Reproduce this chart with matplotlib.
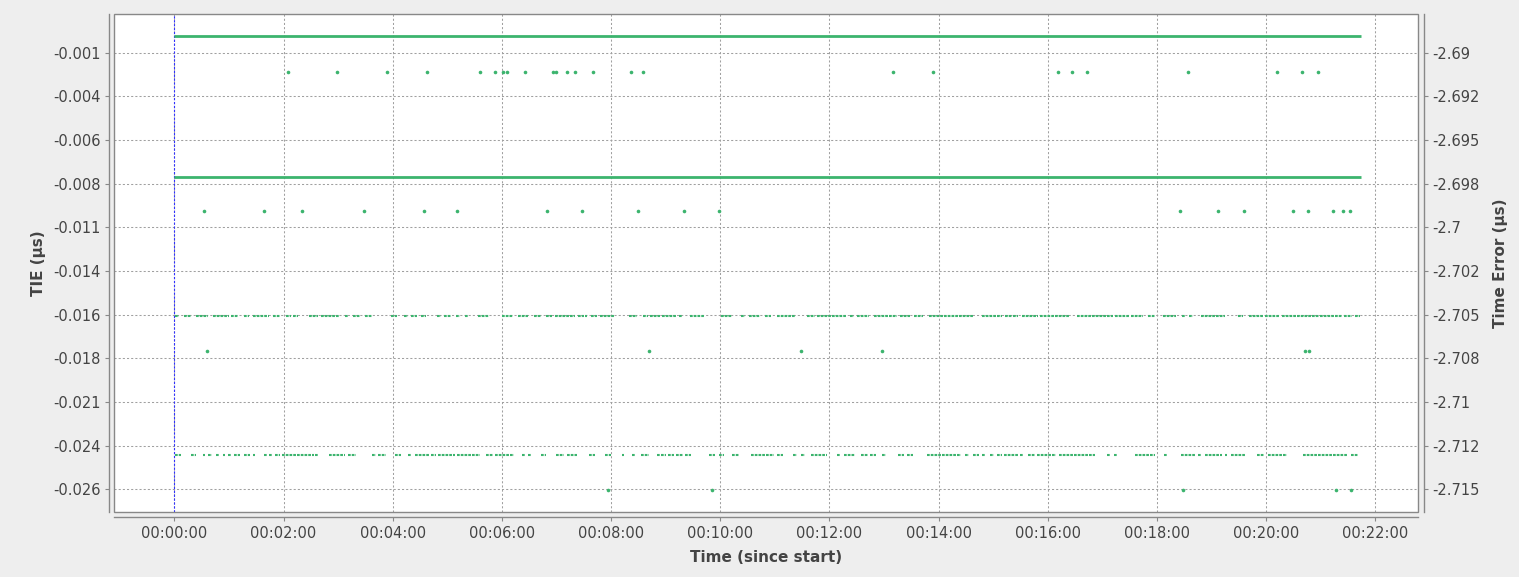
import matplotlib
matplotlib.use("Agg")
import matplotlib.pyplot as plt
from matplotlib.patches import Rectangle

# ---------------- data (time in minutes since start, TIE in µs) ----------------
x_ticks = [0, 2, 4, 6, 8, 10, 12, 14, 16, 18, 20, 22]
x_tick_labels = ["00:00:00", "00:02:00", "00:04:00", "00:06:00", "00:08:00", "00:10:00",
                 "00:12:00", "00:14:00", "00:16:00", "00:18:00", "00:20:00", "00:22:00"]

left_ticks = [-0.001, -0.0035, -0.006, -0.0085, -0.011, -0.0135, -0.016, -0.0185,
              -0.021, -0.0235, -0.026]
left_tick_labels = ["-0.001", "-0.004", "-0.006", "-0.008", "-0.011", "-0.014", "-0.016",
                    "-0.018", "-0.021", "-0.024", "-0.026"]
right_ticks = [-2.69, -2.6925, -2.695, -2.6975, -2.7, -2.7025, -2.705, -2.7075,
               -2.71, -2.7125, -2.715]
right_tick_labels = ["-2.69", "-2.692", "-2.695", "-2.698", "-2.7", "-2.702", "-2.705",
                     "-2.708", "-2.71", "-2.712", "-2.715"]
time_error_offset = -2.689   # Time Error = TIE + offset

# levels (µs)
level_top = -0.00004
level_top_low = -0.00209
level_mid = -0.0081
level_mid_low = -0.01006
level_c = -0.01606
level_c_low = -0.01808
level_d = -0.02403
level_d_low = -0.02604

# continuous runs
top_runs = [(0.0, 21.74)]
mid_runs = [(0.0, 21.74)]

# sparse samples
top_low_times = [2.09, 2.98, 3.90, 4.63, 5.59, 5.88, 6.02, 6.09, 6.43, 6.94, 6.99, 7.19,
                 7.34, 7.66, 8.37, 8.58, 13.16, 13.89, 16.19, 16.45, 16.72, 18.57, 20.19,
                 20.66, 20.95]
mid_low_times = [0.55, 1.65, 2.34, 3.47, 4.58, 5.18, 6.82, 7.47, 8.49, 9.34, 9.98, 18.42,
                 19.12, 19.60, 20.49, 20.76, 21.22, 21.40, 21.54]
c_low_times = [0.59, 8.69, 11.47, 12.97, 20.71, 20.79]
d_low_times = [7.94, 9.84, 18.47, 21.28, 21.55]

# dense rows (runs of samples)
c_runs = [(0.01, 0.09), (0.18, 0.30), (0.40, 0.62), (0.71, 1.00), (1.04, 1.17), (1.28, 1.36),
          (1.44, 1.73), (1.80, 1.94), (2.05, 2.13), (2.18, 2.27), (2.46, 2.63), (2.69, 3.01),
          (3.13, 3.19), (3.28, 3.41), (3.49, 3.62), (3.96, 4.07), (4.21, 4.28), (4.34, 4.45),
          (4.51, 4.61), (4.82, 4.88), (4.94, 5.07), (5.16, 5.23), (5.32, 5.37), (5.56, 5.76),
          (6.01, 6.20), (6.29, 6.48), (6.58, 6.71), (6.80, 6.92), (6.98, 7.34), (7.39, 7.50),
          (7.53, 7.56), (7.63, 7.74), (7.79, 8.08), (8.32, 8.47), (8.58, 8.67), (8.72, 8.90),
          (8.94, 9.18), (9.24, 9.30), (9.44, 9.71), (10.01, 10.21), (10.37, 10.46),
          (10.52, 10.73), (10.82, 10.89), (10.90, 10.93), (11.03, 11.37), (11.59, 11.74),
          (11.78, 12.32), (12.38, 12.44), (12.50, 12.72), (12.81, 13.24), (13.30, 13.48),
          (13.55, 13.72), (13.83, 14.64), (14.79, 15.16), (15.22, 15.34), (15.37, 15.46),
          (15.53, 15.82), (15.86, 16.41), (16.54, 17.20), (17.22, 17.48), (17.53, 17.75),
          (17.83, 17.97), (18.10, 18.35), (18.46, 18.52), (18.58, 18.65), (18.80, 19.24),
          (19.49, 19.57), (19.69, 19.95), (19.97, 20.23), (20.28, 20.96), (20.99, 21.39),
          (21.42, 21.57), (21.62, 21.72)]
d_runs = [(0.02, 0.13), (0.30, 0.40), (0.52, 0.56), (0.62, 0.69), (0.76, 0.82), (0.89, 0.93),
          (0.98, 1.03), (1.09, 1.20), (1.28, 1.39), (1.44, 1.48), (1.65, 1.69), (1.74, 1.79),
          (1.84, 1.94), (1.97, 2.55), (2.57, 2.63), (2.83, 3.13), (3.18, 3.33), (3.62, 3.69),
          (3.73, 3.88), (4.04, 4.15), (4.28, 4.33), (4.40, 4.66), (4.70, 4.79), (4.83, 5.15),
          (5.18, 5.60), (5.71, 5.83), (5.88, 6.22), (6.37, 6.42), (6.48, 6.53), (6.72, 6.80),
          (6.99, 7.13), (7.20, 7.38), (7.60, 7.71), (7.88, 7.99), (8.20, 8.24), (8.38, 8.43),
          (8.54, 8.69), (8.84, 8.89), (8.91, 9.00), (9.04, 9.15), (9.19, 9.32), (9.35, 9.46),
          (9.79, 9.91), (9.98, 10.07), (10.22, 10.35), (10.56, 10.98), (11.03, 11.15),
          (11.34, 11.40), (11.47, 11.56), (11.67, 11.95), (12.14, 12.20), (12.27, 12.47),
          (12.58, 12.70), (12.75, 12.86), (12.97, 13.03), (13.25, 13.36), (13.42, 13.53),
          (13.79, 14.41), (14.48, 14.55), (14.62, 14.74), (14.79, 14.85), (14.94, 15.01),
          (15.07, 15.16), (15.19, 15.46), (15.49, 15.54), (15.64, 15.77), (15.80, 16.14),
          (16.20, 16.87), (17.08, 17.14), (17.21, 17.27), (17.59, 17.97), (18.12, 18.18),
          (18.43, 18.70), (18.75, 18.81), (18.87, 19.19), (19.25, 19.28), (19.36, 19.62),
          (19.83, 19.95), (20.04, 20.38), (20.68, 21.48), (21.55, 21.68)]

# ---------------- figure ----------------
W, H = 1519, 577
BG = "#eeeeee"
GREEN = "#3cb46e"
TXT = "#444444"
AXC = "#888888"
FS = 10.5

plt.rcParams["font.family"] = ["DejaVu Sans"]
fig = plt.figure(figsize=(W / 100, H / 100), dpi=100, facecolor=BG)
L, R, T, B = 114.3, 1418.3, 14.3, 511.7
ax = fig.add_axes([L / W, 1 - B / H, (R - L) / W, (B - T) / H])
ax.set_facecolor("white")
ymin, ymax = -0.02728, 0.0012
ax.set_xlim(-1.099, 22.784)
ax.set_ylim(ymin, ymax)

# grid
ax.set_xticks(x_ticks)
ax.set_xticklabels(x_tick_labels)
ax.set_yticks(left_ticks)
ax.set_yticklabels(left_tick_labels)
ax.grid(True, color="#a0a0a0", linestyle=(0, (2, 2)), linewidth=0.75, zorder=0)
ax.set_axisbelow(True)

# vertical start marker
ax.axvline(0, color="#3030ff", linestyle=(0, (2, 1.5)), linewidth=0.8, zorder=1)

# data
def draw_runs(runs, level, lw, dashes=None):
    for s, e in runs:
        kw = {}
        if dashes is not None:
            kw["dashes"] = dashes
        ax.plot([s, e], [level, level], color=GREEN, linewidth=lw,
                solid_capstyle="butt", dash_capstyle="butt", zorder=3, **kw)

draw_runs(top_runs, level_top, 2.0)
draw_runs(mid_runs, level_mid, 2.0)
draw_runs(c_runs, level_c, 1.5, dashes=(1.3, 0.5))
draw_runs(d_runs, level_d, 1.5, dashes=(1.3, 0.5))
for times, lev in [(top_low_times, level_top_low), (mid_low_times, level_mid_low),
                   (c_low_times, level_c_low), (d_low_times, level_d_low)]:
    ax.plot(times, [lev] * len(times), linestyle="none", marker="o", markersize=2.6,
            markeredgewidth=0, color=GREEN, zorder=3)

# spines / axes look
for side in ["top", "right"]:
    ax.spines[side].set_visible(False)
for side in ["left", "bottom"]:
    ax.spines[side].set_position(("outward", 4))
    ax.spines[side].set_color(AXC)
    ax.spines[side].set_linewidth(1.0)
ax.tick_params(axis="both", direction="out", length=3, width=0.8, color=AXC,
               labelcolor=TXT, labelsize=FS, pad=3)
ax.add_patch(Rectangle((0, 0), 1, 1, transform=ax.transAxes, fill=False,
                       edgecolor=AXC, linewidth=1.0, clip_on=False, zorder=5))

ax2 = ax.twinx()
ax2.set_ylim(ymin + time_error_offset, ymax + time_error_offset)
ax2.set_yticks(right_ticks)
ax2.set_yticklabels(right_tick_labels)
for side in ["top", "left", "bottom"]:
    ax2.spines[side].set_visible(False)
ax2.spines["right"].set_position(("outward", 4))
ax2.spines["right"].set_color(AXC)
ax2.spines["right"].set_linewidth(1.0)
ax2.tick_params(axis="y", direction="out", length=3, width=0.8, color=AXC,
                labelcolor=TXT, labelsize=FS, pad=3)

# axis labels
fig.text(766 / W, 1 - 558 / H, "Time (since start)", ha="center", va="center",
         fontsize=11, fontweight="bold", color=TXT)
fig.text(38 / W, 1 - 263 / H, "TIE (µs)", ha="center", va="center", rotation=90,
         fontsize=11, fontweight="bold", color=TXT)
fig.text(1500 / W, 1 - 263 / H, "Time Error (µs)", ha="center", va="center", rotation=90,
         fontsize=11, fontweight="bold", color=TXT)

fig.savefig("out.png", dpi=100, facecolor=BG)
